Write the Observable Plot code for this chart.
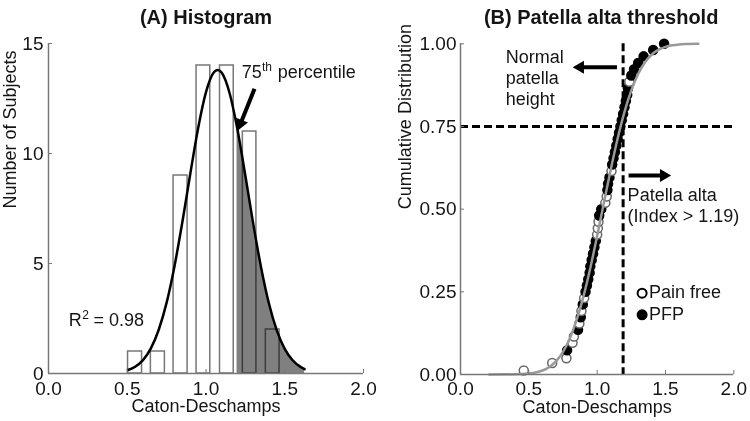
<!DOCTYPE html>
<html><head><meta charset="utf-8">
<script src="https://cdn.jsdelivr.net/npm/d3@7"></script>
<script src="https://cdn.jsdelivr.net/npm/@observablehq/plot@0.6"></script>
<style>
body{margin:0;background:#fff;}
#wrap{display:flex;width:750px;height:421px;overflow:hidden;}
#wrap svg{display:block;flex:none;}
</style></head><body><div id="wrap"></div>
<script>
// ---------- data ----------
const binStart = [0.505, 0.65, 0.794, 0.94, 1.089, 1.234, 1.38];
const binEnd   = [0.594, 0.739, 0.883, 1.027, 1.176, 1.32, 1.467];
const binCount = [1, 1, 9, 14, 14, 11, 2];

const normX = [0.505,0.55,0.60,0.65,0.70,0.75,0.80,0.85,0.90,0.95,1.00,1.05,1.074,1.10,1.15,1.197,1.25,1.30,1.35,1.40,1.45,1.50,1.55,1.60,1.626];
const normY = [0.16,0.31,0.61,1.14,1.99,3.22,4.88,6.89,9.07,11.15,12.79,13.69,13.8,13.67,12.74,11.19,8.99,6.80,4.81,3.17,1.95,1.12,0.60,0.30,0.20];
const shadeFrom = 1.197;

const cdfX = [0.21,0.40,0.50,0.55,0.60,0.65,0.70,0.75,0.80,0.85,0.90,0.95,1.00,1.05,1.10,1.15,1.20,1.25,1.30,1.35,1.40,1.45,1.50,1.55,1.60,1.65,1.74];
const cdfY = [0.0000,0.0005,0.0028,0.0060,0.0120,0.0228,0.0406,0.0685,0.1092,0.1650,0.2364,0.3222,0.4188,0.5205,0.6208,0.7136,0.7940,0.8593,0.9088,0.9441,0.9676,0.9823,0.9908,0.9955,0.9980,0.9991,0.9998];

const ecdfX = [0.463,0.671,0.775,0.78,0.82,0.83,0.86,0.87,0.88,0.885,0.895,0.905,0.915,0.925,0.935,0.945,0.95,0.96,0.97,0.98,0.99,1.00,1.005,1.01,1.015,1.03,1.06,1.07,1.075,1.08,1.09,1.105,1.11,1.12,1.13,1.14,1.15,1.16,1.17,1.18,1.19,1.20,1.21,1.22,1.225,1.235,1.25,1.27,1.30,1.34,1.41,1.49];
const ecdfY = [0.012,0.035,0.049,0.073,0.096,0.115,0.135,0.154,0.173,0.192,0.212,0.231,0.250,0.269,0.288,0.308,0.327,0.346,0.365,0.385,0.404,0.423,0.442,0.462,0.481,0.500,0.519,0.538,0.558,0.577,0.596,0.615,0.635,0.654,0.673,0.692,0.712,0.731,0.750,0.769,0.788,0.808,0.827,0.846,0.865,0.885,0.904,0.923,0.942,0.962,0.981,1.000];
const ecdfGroup = ["Pain free","Pain free","Pain free","PFP","Pain free","Pain free","PFP","Pain free","PFP","Pain free","PFP","Pain free",
  "PFP","PFP","PFP","PFP","PFP","PFP","PFP","PFP","PFP","Pain free","Pain free","Pain free","PFP","PFP","Pain free","Pain free","PFP","PFP","PFP","Pain free",
  "PFP","PFP","PFP","PFP","PFP","PFP","PFP","PFP","PFP","PFP","PFP","PFP","PFP","Pain free","PFP","PFP","PFP","PFP","PFP","PFP"];

const threshold = 1.19;
const percentileLine = 0.75;
const xTicks = [0, 0.5, 1.0, 1.5, 2.0];
const histYTicks = [0, 5, 10, 15];
const cdfYTicks = [0, 0.25, 0.5, 0.75, 1.0];
const legendGroups = ["Pain free", "PFP"];

// ---------- tables ----------
const bars = binStart.map((s, i) => ({x1: s, x2: binEnd[i], y: binCount[i]}));
const norm = normX.map((x, i) => ({x, y: normY[i]}));
const shade = norm.filter(d => d.x >= shadeFrom);
const cdf = cdfX.map((x, i) => ({x, y: cdfY[i]}));
const ecdf = ecdfX.map((x, i) => ({x, y: ecdfY[i], g: ecdfGroup[i]}));

const font = '"Liberation Sans", Arial, Helvetica, sans-serif';
const txt = "#151515";
const axisGray = "#777";
const fillOf = g => g === "PFP" ? "black" : "white";
const strokeOf = g => g === "PFP" ? "black" : "#666";

// arrow helper: shaft (link) + filled triangular head (dot)
function arrowMarks(a) {
  return [
    Plot.link([a], {x1: "x1", y1: "y1", x2: "x2", y2: "y2", stroke: "black", strokeWidth: 4}),
    Plot.dot([a], {x: "x2", y: "y2", symbol: "triangle", r: 4.8, fill: "black", stroke: "none", rotate: a.angle})
  ];
}

const left = Plot.plot({
  width: 375, height: 421,
  marginLeft: 48, marginRight: 12, marginTop: 43, marginBottom: 48,
  style: {fontFamily: font, background: "transparent", overflow: "visible"},
  x: {domain: [0, 2]},
  y: {domain: [0, 15]},
  marks: [
    Plot.rectY(bars, {x1: "x1", x2: "x2", y: "y", fill: "white"}),
    Plot.areaY(shade, {x: "x", y: "y", fill: "#808080", curve: "monotone-x"}),
    Plot.rectY(bars, {x1: "x1", x2: "x2", y: "y", fill: "none", stroke: "#777", strokeWidth: 1.5, mixBlendMode: "multiply"}),
    Plot.line(norm, {x: "x", y: "y", stroke: "black", strokeWidth: 2.5, curve: "monotone-x"}),
    Plot.ruleY([0], {stroke: axisGray, strokeWidth: 1.5}),
    Plot.ruleX([0], {stroke: axisGray, strokeWidth: 1.5}),
    Plot.axisX({ticks: xTicks, tickFormat: d3.format(".1f"), tickSize: -4, tickPadding: 12, fontSize: 19, color: txt, stroke: axisGray, label: null}),
    Plot.axisY({ticks: histYTicks, tickSize: -4, tickPadding: 9, fontSize: 19, color: txt, stroke: axisGray, label: null}),
    Plot.text(["(A) Histogram"], {frameAnchor: "top", dy: -20, fontSize: 20, fontWeight: "bold", lineAnchor: "bottom", fill: txt}),
    Plot.text(["Caton-Deschamps"], {frameAnchor: "bottom", dy: 38.5, fontSize: 18, lineAnchor: "bottom", fill: txt}),
    Plot.text(["Number of Subjects"], {frameAnchor: "left", rotate: -90, dx: -32.5, fontSize: 18, lineAnchor: "bottom", fill: txt}),
    // 75th percentile annotation
    Plot.text([{x: 1.227, y: 13.41, t: "75"}], {x: "x", y: "y", text: "t", fontSize: 18, textAnchor: "start", lineAnchor: "bottom", fill: txt}),
    Plot.text([{x: 1.355, y: 13.73, t: "th"}], {x: "x", y: "y", text: "t", fontSize: 12, textAnchor: "start", lineAnchor: "bottom", fill: txt}),
    Plot.text([{x: 1.456, y: 13.41, t: "percentile"}], {x: "x", y: "y", text: "t", fontSize: 18, textAnchor: "start", lineAnchor: "bottom", fill: txt}),
    ...arrowMarks({x1: 1.308, y1: 12.94, x2: 1.2197, y2: 11.36, angle: 201.7}),
    // R^2
    Plot.text([{x: 0.129, y: 2.18, t: "R"}], {x: "x", y: "y", text: "t", fontSize: 18, textAnchor: "start", lineAnchor: "bottom", fill: txt}),
    Plot.text([{x: 0.214, y: 2.5, t: "2"}], {x: "x", y: "y", text: "t", fontSize: 12, textAnchor: "start", lineAnchor: "bottom", fill: txt}),
    Plot.text([{x: 0.285, y: 2.18, t: "= 0.98"}], {x: "x", y: "y", text: "t", fontSize: 18, textAnchor: "start", lineAnchor: "bottom", fill: txt})
  ]
});

const right = Plot.plot({
  width: 375, height: 421,
  marginLeft: 85, marginRight: 16.7, marginTop: 43.3, marginBottom: 47,
  style: {fontFamily: font, background: "transparent", overflow: "visible"},
  x: {domain: [0, 2]},
  y: {domain: [0, 1]},
  marks: [
    Plot.ruleY([percentileLine], {stroke: "black", strokeWidth: 3, strokeDasharray: "8,4"}),
    Plot.ruleX([threshold], {stroke: "black", strokeWidth: 3, strokeDasharray: "8,4"}),
    Plot.dot(ecdf, {x: "x", y: "y", r: 4.5, fill: d => fillOf(d.g), stroke: d => strokeOf(d.g), strokeWidth: 1.5}),
    Plot.line(cdf, {x: "x", y: "y", stroke: "#999", strokeWidth: 2.5, curve: "monotone-x"}),
    Plot.ruleY([0], {stroke: axisGray, strokeWidth: 1.5}),
    Plot.ruleX([0], {stroke: axisGray, strokeWidth: 1.5}),
    Plot.axisX({ticks: xTicks, tickFormat: d3.format(".1f"), tickSize: -4, tickPadding: 11, fontSize: 19, color: txt, stroke: axisGray, label: null}),
    Plot.axisY({ticks: cdfYTicks, tickFormat: d3.format(".2f"), tickSize: -4, tickPadding: 8, fontSize: 19, color: txt, stroke: axisGray, label: null}),
    Plot.text(["(B) Patella alta threshold"], {frameAnchor: "top", dx: 4, dy: -20, fontSize: 20, fontWeight: "bold", lineAnchor: "bottom", fill: txt}),
    Plot.text(["Caton-Deschamps"], {frameAnchor: "bottom", dy: 38.5, fontSize: 18, lineAnchor: "bottom", fill: txt}),
    Plot.text(["Cumulative Distribution"], {frameAnchor: "left", rotate: -90, dx: -50, fontSize: 18, lineAnchor: "bottom", fill: txt}),
    Plot.text([{x: 0.331, y: 0.816, t: "Normal\npatella\nheight"}], {x: "x", y: "y", text: "t", fontSize: 18, lineHeight: 1.17, textAnchor: "start", lineAnchor: "bottom", fill: txt}),
    ...arrowMarks({x1: 1.145, y1: 0.929, x2: 0.876, y2: 0.929, angle: 270}),
    ...arrowMarks({x1: 1.23, y1: 0.602, x2: 1.487, y2: 0.602, angle: 90}),
    Plot.text([{x: 1.223, y: 0.4605, t: "Patella alta\n(Index > 1.19)"}], {x: "x", y: "y", text: "t", fontSize: 18, lineHeight: 1.2, textAnchor: "start", lineAnchor: "bottom", fill: txt}),
    // legend
    Plot.dot(legendGroups, {x: () => 1.329, y: (d, i) => [0.246, 0.1805][i], r: 4.5, fill: d => fillOf(d), stroke: "black", strokeWidth: 2}),
    Plot.text(legendGroups, {x: () => 1.38, y: (d, i) => [0.232, 0.166][i], text: d => d, fontSize: 18, textAnchor: "start", lineAnchor: "bottom", fill: txt})
  ]
});

document.getElementById("wrap").append(left, right);
</script>
</body></html>
